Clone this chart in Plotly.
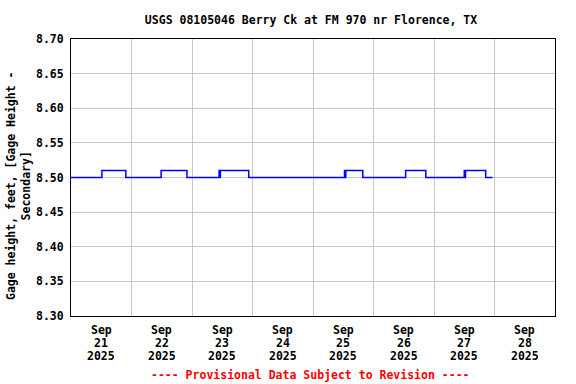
import plotly.graph_objects as go

# Data (change points of the gage-height record, 15-minute data)
times = [
    "2025-09-21 00:00", "2025-09-21 12:15", "2025-09-21 21:45",
    "2025-09-22 11:45", "2025-09-22 22:00",
    "2025-09-23 10:45", "2025-09-23 11:00", "2025-09-23 11:15", "2025-09-23 22:30",
    "2025-09-25 12:30", "2025-09-25 12:45", "2025-09-25 13:00", "2025-09-25 19:45",
    "2025-09-26 12:45", "2025-09-26 20:45",
    "2025-09-27 12:00", "2025-09-27 12:15", "2025-09-27 12:30", "2025-09-27 20:30",
    "2025-09-27 23:15",
]
values = [
    8.50, 8.51, 8.50,
    8.51, 8.50,
    8.51, 8.50, 8.51, 8.50,
    8.51, 8.50, 8.51, 8.50,
    8.51, 8.50,
    8.51, 8.50, 8.51, 8.50,
    8.50,
]

tick_positions = ["2025-09-21 12:00", "2025-09-22 12:00", "2025-09-23 12:00", "2025-09-24 12:00",
                  "2025-09-25 12:00", "2025-09-26 12:00", "2025-09-27 12:00", "2025-09-28 12:00"]
tick_month = ["Sep"] * 8
tick_day = ["21", "22", "23", "24", "25", "26", "27", "28"]
tick_year = ["2025"] * 8
y_ticks = [8.30, 8.35, 8.40, 8.45, 8.50, 8.55, 8.60, 8.65, 8.70]

FONT = "DejaVu Sans Mono"
FS = 11.5

fig = go.Figure()
fig.add_trace(go.Scatter(
    x=times, y=values, mode="lines", line=dict(color="#0000ff", width=1.5, shape="hv"),
    showlegend=False, hoverinfo="skip",
))

annotations = []
for xv, m, d, yr in zip(tick_positions, tick_month, tick_day, tick_year):
    for txt, yy in ((m, -0.0505), (d, -0.0964), (yr, -0.143)):
        annotations.append(dict(text="<b>%s</b>" % txt, xref="x", yref="paper", x=xv, y=yy,
                                xanchor="center", yanchor="middle", showarrow=False,
                                font=dict(family=FONT, size=FS, color="black")))
annotations += [
    dict(text="<b>Gage height, feet, [Gage Height -</b><br><b>Secondary]</b>",
         xref="paper", yref="paper", x=-0.107, y=0.47, xanchor="center", yanchor="middle",
         textangle=-90, showarrow=False, align="center",
         font=dict(family=FONT, size=FS, color="black")),
    dict(text="<b>---- Provisional Data Subject to Revision ----</b>",
         xref="paper", yref="paper", x=0.495, y=-0.213, xanchor="center", yanchor="middle",
         showarrow=False, font=dict(family=FONT, size=FS, color="red")),
]

fig.update_layout(
    width=576, height=384,
    margin=dict(l=71, r=21, t=39, b=68),
    paper_bgcolor="white", plot_bgcolor="white",
    font=dict(family=FONT, size=FS, color="black"),
    title=dict(text="<b>USGS 08105046 Berry Ck at FM 970 nr Florence, TX</b>",
               x=0.54, xanchor="center", y=0.948, yanchor="middle",
               font=dict(family=FONT, size=FS, color="black")),
    xaxis=dict(
        type="date",
        range=["2025-09-21 00:00", "2025-09-29 00:00"],
        tickmode="array", tickvals=tick_positions, showticklabels=False,
        showgrid=False, ticks="",
        minor=dict(showgrid=True, gridcolor="#c8c8c8", gridwidth=1, dtick=86400000,
                   tick0="2025-09-21 00:00", ticks=""),
        showline=True, linecolor="black", linewidth=1, mirror=True,
        zeroline=False, fixedrange=True,
    ),
    yaxis=dict(
        range=[8.30, 8.70],
        tickmode="array", tickvals=y_ticks, ticktext=["<b>%.2f</b>" % v for v in y_ticks],
        showgrid=True, gridcolor="#c8c8c8", gridwidth=1, ticks="", ticklabelstandoff=4,
        showline=True, linecolor="black", linewidth=1, mirror=True,
        zeroline=False, fixedrange=True,
        tickfont=dict(family=FONT, size=FS, color="black"),
    ),
    annotations=annotations,
)

fig.write_html("out.html", config={"displayModeBar": False, "staticPlot": True},
               post_script="document.body.style.margin='0';document.body.style.padding='0';")
